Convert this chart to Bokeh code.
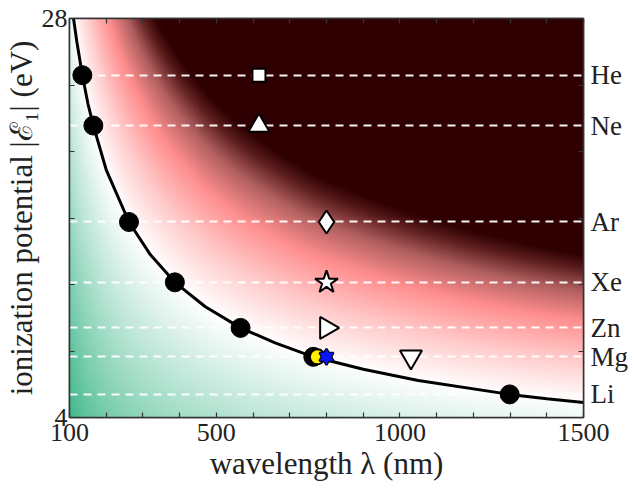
import numpy as np
from bokeh.plotting import figure
from bokeh.models import LinearAxis, FixedTicker, Range1d
from bokeh.embed import file_html
from bokeh.resources import INLINE

# ---------------- data ----------------
atoms = ["He", "Ne", "Ar", "Xe", "Zn", "Mg", "Li"]
ip = [24.59, 21.56, 15.76, 12.13, 9.39, 7.65, 5.39]          # eV
pt_wl = [135, 165, 262, 387, 566, 764, 1299]                 # nm, points on curve

curve_wl = [108, 111, 120, 135, 150, 165, 200, 262, 320, 387, 470, 566,
            660, 764, 900, 1050, 1299, 1400, 1500]
curve_ip = [28.6, 28.0, 26.6, 24.59, 22.9, 21.56, 18.9, 15.76, 13.8, 12.13,
            10.66, 9.39, 8.49, 7.65, 6.90, 6.22, 5.39, 5.13, 4.90]

sq_wl, sq_ip = [616], [24.59]
tri_wl, tri_ip = [616], [21.56]
dia_wl, dia_ip = [800], [15.76]
star_wl, star_ip = [800], [12.13]
rtri_wl, rtri_ip = [800], [9.39]
dtri_wl, dtri_ip = [1030], [7.65]
moon_wl, moon_ip = [775], [7.65]
hex_wl, hex_ip = [800], [7.65]

x_major = [100, 500, 1000, 1500]
x_minor = [200, 300, 400, 600, 700, 800, 900, 1100, 1200, 1300, 1400]
y_major = [4, 28]
y_minor = [8, 12, 16, 20, 24]

FONT = "Liberation Serif"
AX = "#333333"
TXT = "#222222"

# ---------------- figure ----------------
p = figure(width=634, height=488, output_backend="svg", toolbar_location=None,
           x_range=Range1d(100, 1500), y_range=Range1d(4, 28),
           min_border_left=67, min_border_right=51, min_border_top=18,
           min_border_bottom=71)
p.grid.visible = False
p.outline_line_color = AX
p.outline_line_width = 1.5

# ---------------- background map ----------------
nx, ny = 516, 400
lam = np.linspace(100, 1500, nx)
en = np.linspace(4, 28, ny)
lw = np.log(np.array(curve_wl, float))
le = np.log(np.array(curve_ip, float))
ll = np.log(lam)
ecl = np.interp(ll, lw, le)
s0 = (le[1] - le[0]) / (lw[1] - lw[0])
ecl = np.where(ll < lw[0], le[0] + s0 * (ll - lw[0]), ecl)
Ec = np.exp(ecl)[None, :]
E = en[:, None]
q = (E - Ec) / np.sqrt(Ec)

stops = np.array([-5.0, 0.0, 1.1, 2.2, 3.0, 3.6, 4.0])
cols = np.array([
    [55, 181, 134],
    [255, 255, 255],
    [255, 204, 204],
    [255, 142, 142],
    [178, 96, 96],
    [92, 30, 30],
    [47, 0, 2],
], float)
img = np.empty((ny, nx), dtype=np.uint32)
view = img.view(dtype=np.uint8).reshape((ny, nx, 4))
for c in range(3):
    view[:, :, c] = np.clip(np.interp(q, stops, cols[:, c]), 0, 255).astype(np.uint8)
view[:, :, 3] = 255
p.image_rgba(image=[img], x=100, y=4, dw=1400, dh=24)

# ---------------- dashed level lines ----------------
p.hspan(y=ip, line_color="white", line_alpha=0.95, line_width=2, line_dash="8 6")

# ---------------- curve and markers ----------------
p.line(curve_wl, curve_ip, line_color="black", line_width=3)
p.scatter(pt_wl, ip, marker="circle", size=19, fill_color="black", line_color="black")

mk = dict(fill_color="white", line_color="black", line_width=2)
p.scatter(sq_wl, sq_ip, marker="square", size=13, **mk)
p.scatter(tri_wl, tri_ip, marker="triangle", size=21, **mk)
p.scatter(dia_wl, dia_ip, marker="diamond", size=23, **mk)
p.scatter(star_wl, star_ip, marker="star", size=24, **mk)
p.scatter(rtri_wl, rtri_ip, marker="triangle", angle=-np.pi / 2, size=22, **mk)
p.scatter(dtri_wl, dtri_ip, marker="inverted_triangle", size=22, **mk)

p.scatter(moon_wl, moon_ip, marker="circle", size=15, fill_color="#ffee00",
          line_color="black", line_width=2)
for m in ("triangle", "inverted_triangle"):
    p.scatter(hex_wl, hex_ip, marker=m, size=14, fill_color="#0a14ff",
              line_color="black", line_width=2.2)
for m in ("triangle", "inverted_triangle"):
    p.scatter(hex_wl, hex_ip, marker=m, size=14, fill_color="#0a14ff",
              line_color=None)

# ---------------- axes ----------------
def style(ax):
    ax.axis_line_color = AX
    ax.axis_line_width = 1.5
    ax.major_tick_line_color = AX
    ax.minor_tick_line_color = AX
    ax.major_tick_line_width = 1.2
    ax.minor_tick_line_width = 1.2
    ax.major_tick_in = 5
    ax.major_tick_out = 0
    ax.minor_tick_in = 5
    ax.minor_tick_out = 0
    ax.major_label_text_font = FONT
    ax.major_label_text_color = TXT
    ax.axis_label_text_font = FONT
    ax.axis_label_text_color = TXT
    ax.axis_label_text_font_style = "normal"

xb = p.xaxis[0]
xb.ticker = FixedTicker(ticks=x_major, minor_ticks=x_minor)
style(xb)
xb.major_label_text_font_size = "26px"
xb.major_label_standoff = 6
xb.axis_label = "wavelength λ (nm)"
xb.axis_label_text_font_size = "31px"
xb.axis_label_standoff = 2

xt = LinearAxis(ticker=FixedTicker(ticks=[], minor_ticks=x_major + x_minor))
style(xt)
p.add_layout(xt, "above")

yl = p.yaxis[0]
yl.ticker = FixedTicker(ticks=y_major, minor_ticks=y_minor)
style(yl)
yl.major_label_text_font_size = "26px"
yl.major_label_standoff = 2
yl.axis_label = "ionization potential |ℰ₁| (eV)"
yl.axis_label_text_font_size = "31px"
yl.axis_label_standoff = 0

yr = LinearAxis(ticker=FixedTicker(ticks=ip, minor_ticks=y_minor),
                major_label_overrides={v: a for v, a in zip(ip, atoms)})
style(yr)
yr.major_tick_line_color = None
yr.major_label_text_font_size = "27px"
yr.major_label_standoff = 7
p.add_layout(yr, "right")

open("out.html", "w").write(file_html(p, INLINE))
